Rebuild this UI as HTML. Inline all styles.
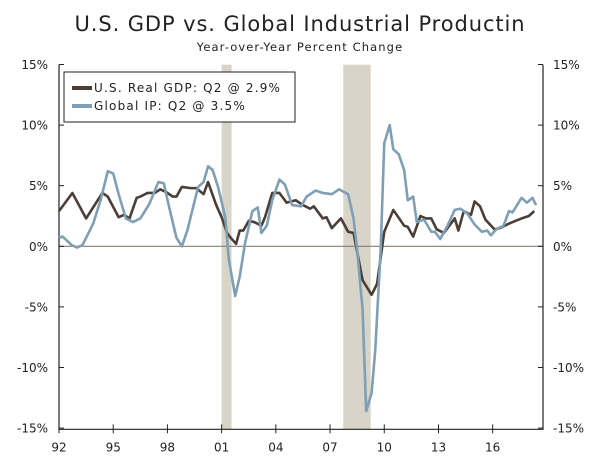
<!DOCTYPE html>
<html><head><meta charset="utf-8"><style>
body{margin:0;background:#fff;}
svg text{font-family:"DejaVu Sans","Liberation Sans",sans-serif;fill:#222;}
</style></head><body>
<svg id="chart" width="600" height="462" xmlns="http://www.w3.org/2000/svg">
<text x="300" y="31" text-anchor="middle" font-size="21" letter-spacing="0.9">U.S. GDP vs. Global Industrial Productin</text>
<text x="300" y="51" text-anchor="middle" font-size="11.5" letter-spacing="1.1">Year-over-Year Percent Change</text>
<g id="bands"></g><g id="axes"></g><g id="series"></g>
<g>
<rect x="64" y="72" width="231" height="50" fill="#fff" stroke="#222" stroke-width="1"/>
<line x1="72" y1="88" x2="92" y2="88" stroke="#4a3e36" stroke-width="4"/>
<text x="94" y="92" font-size="12" letter-spacing="1.2">U.S. Real GDP: Q2 @ 2.9%</text>
<line x1="72" y1="106" x2="92" y2="106" stroke="#7f9fb5" stroke-width="4"/>
<text x="94" y="110" font-size="12" letter-spacing="1.2">Global IP: Q2 @ 3.5%</text>
</g>
</svg>
<script>
const gdpDates=[1992.0,1992.74,1993.5,1994.4,1994.7,1995.3,1995.6,1995.9,1996.3,1996.5,1996.9,1997.3,1997.6,1997.9,1998.3,1998.5,1998.8,1999.3,1999.6,2000.0,2000.25,2000.7,2001.0,2001.3,2001.5,2001.8,2002.0,2002.2,2002.5,2002.8,2003.2,2003.4,2003.8,2004.2,2004.6,2005.1,2005.5,2005.9,2006.1,2006.6,2006.8,2007.1,2007.6,2008.0,2008.3,2008.8,2009.3,2009.6,2010.0,2010.5,2011.1,2011.3,2011.6,2012.0,2012.3,2012.6,2012.9,2013.3,2013.9,2014.1,2014.4,2014.8,2015.0,2015.3,2015.6,2016.1,2016.4,2016.8,2017.1,2017.6,2018.0,2018.3];
const gdpValues=[2.9,4.4,2.3,4.4,4.1,2.4,2.6,2.3,4.0,4.1,4.4,4.4,4.7,4.5,4.1,4.1,4.9,4.8,4.8,4.3,5.3,3.4,2.4,1.1,0.7,0.2,1.3,1.3,2.1,2.0,1.7,2.4,4.4,4.4,3.6,3.8,3.4,3.1,3.3,2.3,2.4,1.5,2.3,1.2,1.1,-2.8,-4.0,-3.1,1.2,3.0,1.7,1.6,0.8,2.5,2.3,2.3,1.4,1.1,2.3,1.3,2.9,2.6,3.7,3.3,2.2,1.4,1.5,1.8,2.0,2.3,2.5,2.9];
const ipDates=[1992.0,1992.2,1992.7,1993.0,1993.3,1993.9,1994.3,1994.7,1995.0,1995.3,1995.7,1996.1,1996.5,1997.0,1997.5,1997.8,1998.1,1998.5,1998.8,1999.1,1999.7,2000.0,2000.25,2000.5,2000.8,2001.2,2001.4,2001.75,2002.0,2002.3,2002.7,2003.0,2003.2,2003.5,2003.8,2004.2,2004.5,2004.9,2005.4,2005.7,2006.2,2006.6,2007.1,2007.5,2008.0,2008.3,2008.5,2008.8,2009.0,2009.3,2009.5,2009.8,2010.0,2010.3,2010.5,2010.8,2011.1,2011.3,2011.6,2011.8,2012.2,2012.6,2012.8,2013.1,2013.5,2013.9,2014.2,2014.6,2015.0,2015.4,2015.7,2015.9,2016.2,2016.6,2016.9,2017.1,2017.6,2017.9,2018.2,2018.4];
const ipValues=[0.7,0.8,0.1,-0.1,0.1,1.9,3.8,6.2,6.0,4.3,2.3,2.0,2.3,3.5,5.3,5.2,3.2,0.7,0.0,1.3,4.9,5.3,6.6,6.3,4.9,2.4,-1.1,-4.1,-2.5,0.3,2.9,3.2,1.1,1.7,3.8,5.5,5.1,3.4,3.3,4.1,4.6,4.4,4.3,4.7,4.3,2.3,-0.3,-5.2,-13.6,-12.1,-8.6,-0.3,8.5,10.0,8.0,7.6,6.3,3.8,4.1,2.0,2.2,1.2,1.2,0.6,1.7,3.0,3.1,2.7,1.8,1.2,1.3,0.9,1.4,1.7,2.9,2.8,4.0,3.6,4.0,3.4];
const recessionStarts=[2001.0,2007.73];
const recessionEnds=[2001.55,2009.25];
const yTicks=[15,10,5,0,-5,-10,-15];
const xTickYears=[1992,1995,1998,2001,2004,2007,2010,2013,2016];
const xTickLabels=["92","95","98","01","04","07","10","13","16"];

const NS="http://www.w3.org/2000/svg";
const L=59,R=543,T=64.7,B=429.3;
const xS=t=>L+(t-1992)*18.07;
const yS=v=>246.3-v*12.12;
function mk(tag,attrs,parent){const e=document.createElementNS(NS,tag);for(const k in attrs)e.setAttribute(k,attrs[k]);parent.appendChild(e);return e;}
const bands=document.getElementById('bands'),axes=document.getElementById('axes'),series=document.getElementById('series');
recessionStarts.forEach((s,i)=>{
 const r=mk('rect',{x:xS(s),y:T,width:xS(recessionEnds[i])-xS(s),height:B-T,fill:'#d8d4c8'},bands);
 
 
});
const z=mk('line',{x1:L,x2:R,y1:yS(0),y2:yS(0),stroke:'#8a7f72','stroke-width':1.2},axes);


const fr=mk('path',{d:`M${L},${T}V${B}H${R}V${T}`,fill:'none',stroke:'#222','stroke-width':1.2},axes);


yTicks.forEach(v=>{
 const y=yS(v);
 mk('line',{x1:L,x2:L+5,y1:y,y2:y,stroke:'#222'},axes);
 mk('line',{x1:R-5,x2:R,y1:y,y2:y,stroke:'#222'},axes);
 const a=mk('text',{x:48,y:y+4.5,'text-anchor':'end','font-size':12},axes);a.textContent=v+'%';
 
 
 const b=mk('text',{x:553,y:y+4.5,'font-size':12},axes);b.textContent=v+'%';
 
 
});
xTickYears.forEach((yr,i)=>{
 const x=xS(yr);
 mk('line',{x1:x,x2:x,y1:B-5,y2:B+4,stroke:'#222'},axes);
 const t=mk('text',{x:x,y:B+22,'text-anchor':'middle','font-size':12},axes);t.textContent=xTickLabels[i];
 
 
});
function line(d,v,c,name){
 const p=mk('polyline',{points:d.map((t,i)=>xS(t)+','+yS(v[i])).join(' '),fill:'none',stroke:c,'stroke-width':2.6,'stroke-linejoin':'round'},series);
 
 
}
line(gdpDates,gdpValues,'#4a3e36','gdp-line');
line(ipDates,ipValues,'#7f9fb5','global-ip-line');
</script>
</body></html>
